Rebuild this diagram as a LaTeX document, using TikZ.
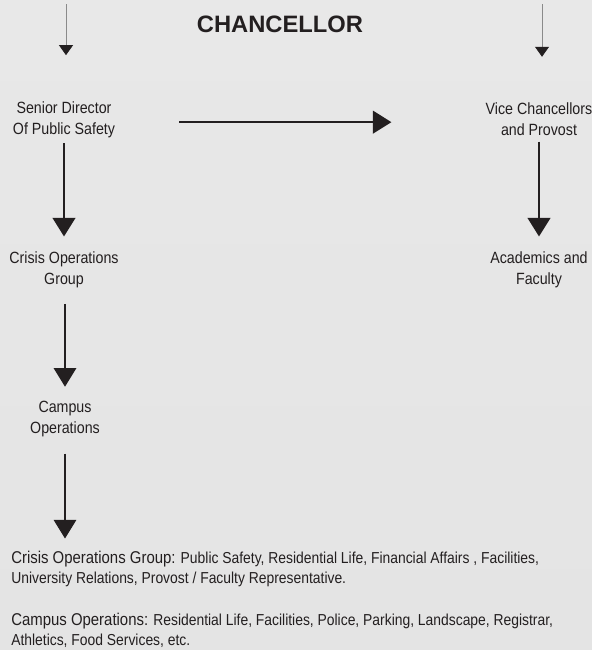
\documentclass[tikz,border=0pt]{standalone}
\usepackage{fontspec}
\usepackage{tikz}
\usetikzlibrary{arrows.meta}
\usetikzlibrary{positioning}
\setmainfont{Liberation Sans}[FakeStretch=0.875]
\newfontfamily\titlefont{Liberation Sans}
\definecolor{mink}{HTML}{231F20}
\definecolor{mgrey}{HTML}{8A8A8A}
\definecolor{bgtop}{HTML}{E8E8E8}
\definecolor{bgmid}{HTML}{EEEEEE}
\definecolor{bgbot}{HTML}{E4E4E4}
\tikzset{
  label/.style={align=center, inner sep=0pt, text=mink,
    font=\fontsize{12.2}{15.75}\selectfont},
  note/.style={align=left, inner sep=0pt, text=mink, anchor=north west,
    font=\fontsize{11.9}{15}\selectfont},
  toparrow/.style={draw=mgrey, line width=0.6pt,
    -{Triangle[length=7.5pt, width=10.5pt, color=mink]}},
  thinarrow/.style={draw=mink, line width=0.8pt,
    -{Triangle[length=14pt, width=17pt]}},
  bigarrow/.style={draw=mink, line width=1.8pt,
    -{Triangle[length=14pt, width=17pt]}}
}
\begin{document}
\begin{tikzpicture}[x=0.75pt, y=-0.75pt]
      \shade [top color=bgtop, middle color=bgmid, bottom color=bgbot] (0, 0) rectangle (592, 650);
      \useasboundingbox (0, 0) rectangle (592, 650);

      \node (chanc) at (280, 24) [text=mink, inner sep=0pt] {\titlefont\fontsize{17.8}{20}\selectfont\bfseries CHANCELLOR};

      \node (sdir) at (64, 119.5) [label] {Senior Director\\Of Public Safety};
      \node (vice) at (539, 119.5) [label] {Vice Chancellors\\and Provost};
      \node (crisis) at (64, 269.5) [label] {Crisis Operations\\Group};
      \node (acad) at (539, 269.5) [label] {Academics and\\Faculty};
      \node (campus) at (65, 419.5) [label] {Campus\\Operations};

      \node (cnote) at (11, 550.5) [note] {{\fontsize{12.8}{15}\selectfont Crisis Operations Group:} Public Safety, Residential Life, Financial Affairs , Facilities,\\University Relations, Provost / Faculty Representative.};
      \node (pnote) at (11, 612.5) [note] {{\fontsize{12.8}{15}\selectfont Campus Operations:} Residential Life, Facilities, Police, Parking, Landscape, Registrar,\\Athletics, Food Services, etc.};

      % arrows from the top edge
      \coordinate (topL) at (66, 4);
      \coordinate (topR) at (542, 4);
      \draw [toparrow, shorten >=34.5pt] (topL) -- (topL |- sdir.north);
      \draw [toparrow, shorten >=34.5pt] (topR) -- (topR |- vice.north);

      \draw [bigarrow, shorten <=48pt, shorten >=70.5pt] ([yshift=-2pt]sdir.east) -- ([yshift=-2pt]sdir.east -| vice.west);
      \draw [bigarrow, shorten <=4pt, shorten >=11pt] (sdir) -- (crisis);
      \draw [bigarrow, shorten <=4pt, shorten >=11pt] (vice) -- (acad);
      \draw [thinarrow, shorten <=12pt, shorten >=11pt] (crisis.south -| campus) -- (campus);
      \draw [thinarrow, shorten <=12pt, shorten >=9pt] (campus) -- (campus |- cnote.north);
    \end{tikzpicture}
\end{document}
